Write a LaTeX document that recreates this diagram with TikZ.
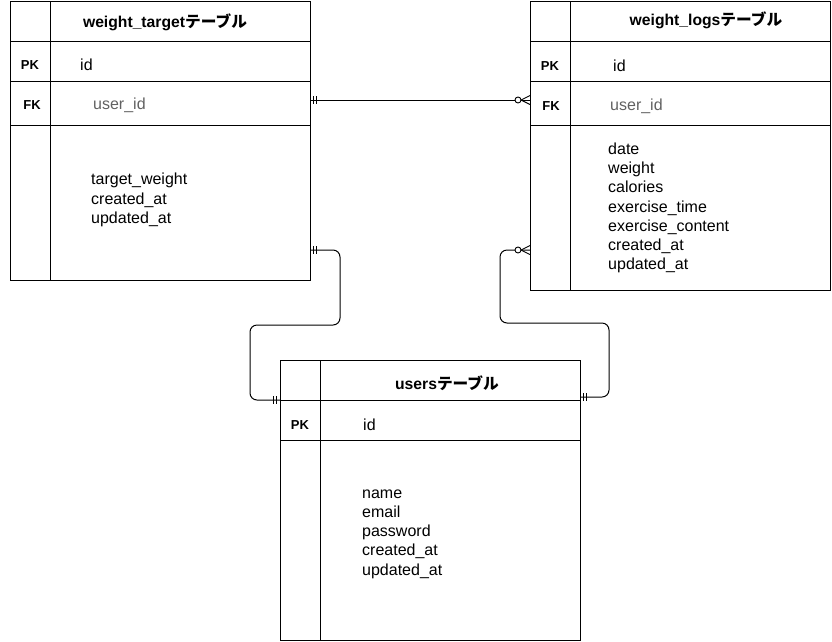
\documentclass[tikz,border=0pt]{standalone}
\usepackage{fontspec}
\setmainfont{Liberation Sans}
\newfontfamily\jp{Noto Sans CJK JP}
\begin{document}
\begin{tikzpicture}[x=1pt,y=-1pt,
  frame/.style={draw, line width=1pt, inner sep=0pt, outer sep=0pt, anchor=north west},
  sep/.style={line width=1pt},
  ttl/.style={font=\fontsize{15.7}{18}\selectfont\bfseries},
  keyl/.style={font=\fontsize{13}{15}\selectfont\bfseries},
  fld/.style={font=\fontsize{16}{19.2}\selectfont, anchor=west, inner sep=0pt, align=left},
  fkf/.style={fld, text=black!62},
  conn/.style={line width=1pt, rounded corners=7pt},
  one/.pic={\draw[line width=0.9pt] (3.5,-4)--(3.5,4) (6.5,-4)--(6.5,4);},
  zeromany/.pic={\draw[line width=0.9pt] (0,-4.5)--(9,0)--(0,4.5);
                 \draw[line width=0.9pt, fill=white] (12,0) circle (3);}
]
\useasboundingbox (0,0) rectangle (832,641);

% ---------- weight_target ----------
\node[frame, minimum width=300pt, minimum height=279pt] (wt) at (10,1) {};
\draw[sep] ([xshift=40pt]wt.north west) -- ([xshift=40pt]wt.south west);
\draw[sep] ([yshift=-40pt]wt.north west) -- ([yshift=-40pt]wt.north east);
\draw[sep] ([yshift=-80pt]wt.north west) -- ([yshift=-80pt]wt.north east);
\draw[sep] ([yshift=-124pt]wt.north west) -- ([yshift=-124pt]wt.north east);
\node[ttl] (wtt) at (165,22) {weight\_target{\jp テーブル}};
\node[keyl] (wtpk) at (30,65) {PK};
\node[fld] (wtid) at (80,65) {id};
\node[keyl] (wtfk) at (32,105) {FK};
\node[fkf] (wtuid) at (93,105) {user\_id};
\node[fld] (wtbody) at (91,200) {target\_weight\\created\_at\\updated\_at};

% ---------- weight_logs ----------
\node[frame, minimum width=300pt, minimum height=289pt] (wl) at (530,1) {};
\draw[sep] ([xshift=40pt]wl.north west) -- ([xshift=40pt]wl.south west);
\draw[sep] ([yshift=-40pt]wl.north west) -- ([yshift=-40pt]wl.north east);
\draw[sep] ([yshift=-80pt]wl.north west) -- ([yshift=-80pt]wl.north east);
\draw[sep] ([yshift=-124pt]wl.north west) -- ([yshift=-124pt]wl.north east);
\node[ttl] (wltt) at (706,20) {weight\_logs{\jp テーブル}};
\node[keyl] (wlpk) at (550,66) {PK};
\node[fld] (wlid) at (613,66) {id};
\node[keyl] (wlfk) at (551,106) {FK};
\node[fkf] (wluid) at (610,106) {user\_id};
\node[fld] (wlbody) at (608,208) {date\\weight\\calories\\exercise\_time\\exercise\_content\\created\_at\\updated\_at};

% ---------- users ----------
\node[frame, minimum width=300pt, minimum height=280pt] (us) at (280,360) {};
\draw[sep] ([xshift=40pt]us.north west) -- ([xshift=40pt]us.south west);
\draw[sep] ([yshift=-40pt]us.north west) -- ([yshift=-40pt]us.north east);
\draw[sep] ([yshift=-80pt]us.north west) -- ([yshift=-80pt]us.north east);
\node[ttl] (ust) at (447,383) {users{\jp テーブル}};
\node[keyl] (uspk) at (300,425) {PK};
\node[fld] (usid) at (363,425) {id};
\node[fld] (usbody) at (362,534) {name\\email\\password\\created\_at\\updated\_at};

% ---------- connectors ----------
\coordinate (c1a) at ([yshift=-99pt]wt.north east);
\coordinate (c1b) at ([yshift=-99pt]wl.north west);
\draw[line width=1pt] (c1a) -- (c1b);

\coordinate (c2a) at ([yshift=-249pt]wt.north east);
\coordinate (c2b) at ([yshift=-40pt]us.north west);
\draw[conn] (c2a) -- (340,250) -- (340,325) -- (250,325) -- (250,400) -- (c2b);

\coordinate (c3a) at ([yshift=-249pt]wl.north west);
\coordinate (c3b) at ([yshift=-37pt]us.north east);
\draw[conn] (c3a) -- (500,250) -- (500,323) -- (609,323) -- (609,397) -- (c3b);

% ---------- cardinality marks ----------
\pic at (c1a) {one};
\pic[xscale=-1] at (c1b) {zeromany};
\pic at (c2a) {one};
\pic[xscale=-1] at (c2b) {one};
\pic[xscale=-1] at (c3a) {zeromany};
\pic at (c3b) {one};
\end{tikzpicture}
\end{document}
